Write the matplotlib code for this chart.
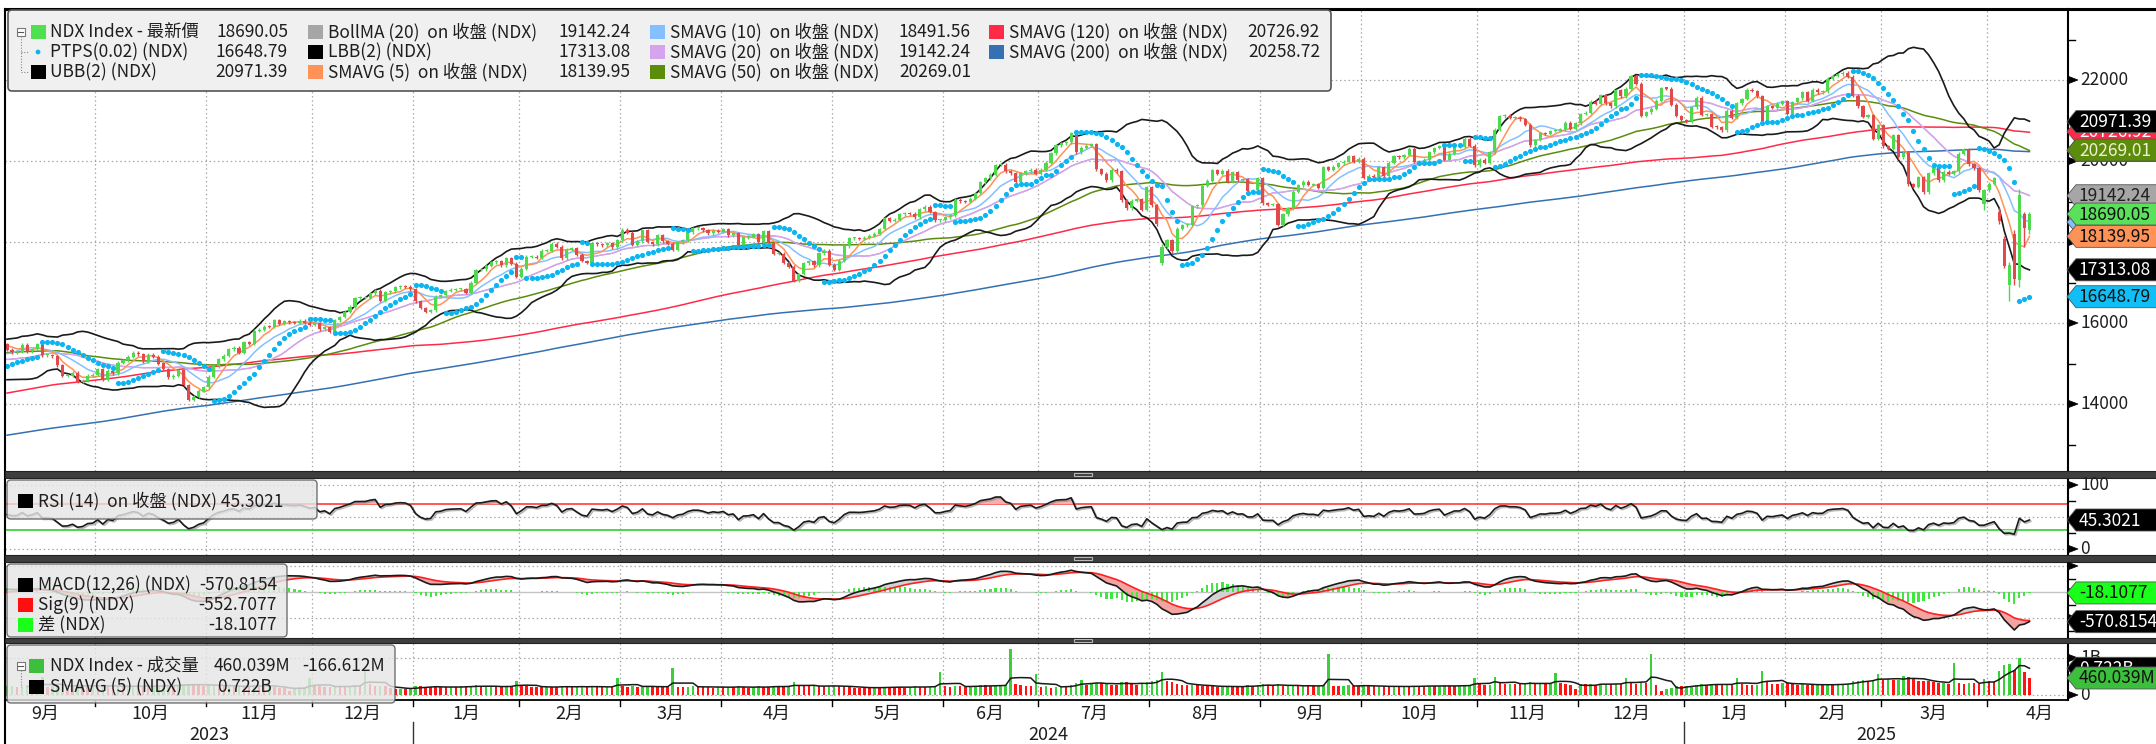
import numpy as np
import pandas as pd
import matplotlib
matplotlib.use('Agg')
import matplotlib.pyplot as plt
from matplotlib.patches import Polygon, Rectangle, FancyBboxPatch, Circle
from matplotlib.lines import Line2D
from matplotlib.transforms import IdentityTransform
import matplotlib.patheffects as pe

plt.rcParams['font.family'] = ['Noto Sans CJK TC', 'DejaVu Sans']
FS = 12.5

# ------------------------------------------------------------------ data
HOLIDAYS = ['2022-11-24', '2022-12-26', '2023-01-02', '2023-01-16', '2023-02-20', '2023-04-07',
            '2023-05-29', '2023-06-19', '2023-07-04', '2023-09-04', '2023-11-23', '2023-12-25',
            '2024-01-01', '2024-01-15', '2024-02-19', '2024-03-29', '2024-05-27', '2024-06-19',
            '2024-07-04', '2024-09-02', '2024-11-28', '2024-12-25', '2025-01-01', '2025-01-09',
            '2025-01-20', '2025-02-17', '2025-04-18']
HISTORY_START = '2022-11-14'
FIRST_VISIBLE = '2023-09-06'

# daily closes (history before the visible window feeds the long averages)
close_2022_11 = [11440, 11600, 11440, 11420, 11430, 11310, 11440, 11540, 11460, 11280, 11200, 11700]
close_2022_12 = [11720, 11680, 11480, 11260, 11200, 11340, 11280, 11410, 11530, 11440, 11080, 10980,
                 10840, 10840, 10990, 10740, 10760, 10620, 10480, 10780, 10940]
close_2023_01 = [10860, 10910, 10740, 11040, 11110, 11190, 11400, 11460, 11540, 11560, 11400, 11280,
                 11580, 11840, 11810, 11790, 12000, 12100, 11870, 12100]
close_2023_02 = [12360, 12800, 12570, 12440, 12680, 12460, 12320, 12300, 12460, 12570, 12650, 12420,
                 12340, 12060, 12060, 12150, 11950, 12020, 12040]
close_2023_03 = [11950, 12050, 12290, 12300, 12140, 12220, 12000, 11830, 11920, 12180, 12250, 12570,
                 12520, 12560, 12740, 12570, 12720, 12770, 12680, 12620, 12840, 12950, 13180]
close_2023_04 = [13180, 13130, 12990, 13090, 13080, 12990, 12880, 13120, 13080, 13080, 13080, 13070,
                 12970, 13000, 12930, 12680, 12770, 13150, 13250]
close_2023_05 = [13230, 13130, 13050, 12990, 13240, 13280, 13200, 13340, 13390, 13340, 13410, 13400,
                 13580, 13830, 13800, 13850, 13670, 13600, 13940, 14300, 14350, 14250]
close_2023_06 = [14460, 14550, 14540, 14560, 14310, 14490, 14540, 14750, 14870, 14980, 15170, 15080,
                 14990, 14780, 14970, 14890, 14680, 14930, 14950, 14910, 15180]
close_2023_07 = [15200, 15190, 15060, 14940, 14970, 15080, 15340, 15630, 15570, 15780, 15920, 15860,
                 15480, 15440, 15500, 15600, 15470, 15460, 15760, 15750]
close_2023_08 = [15730, 15390, 15350, 15270, 15400, 15260, 15090, 15120, 15020, 15200, 15030, 14870,
                 14690, 14690, 14950, 14900, 15140, 14780, 14940, 15040, 15360, 15430, 15500]
close_2023_09 = [15440, 15470, 15340, 15280, 15290, 15460, 15300, 15360, 15480, 15200, 15210, 15180,
                 14960, 14690, 14700, 14770, 14550, 14580, 14700, 14720]
close_2023_10 = [14860, 14600, 14820, 14760, 15020, 15080, 15170, 15270, 15230, 15050, 15220, 15170,
                 15000, 14860, 14660, 14700, 14840, 14470, 14110, 14180, 14330, 14410]
close_2023_11 = [14670, 14930, 15100, 15190, 15350, 15390, 15260, 15530, 15480, 15810, 15830, 15910,
                 15900, 16070, 15980, 16050, 16020, 16010, 16060, 16010, 15950]
close_2023_12 = [15990, 15840, 15890, 15780, 16070, 16150, 16280, 16400, 16610, 16620, 16620, 16730,
                 16800, 16550, 16760, 16780, 16880, 16910, 16900, 16830]
close_2024_01 = [16540, 16370, 16280, 16310, 16650, 16690, 16790, 16820, 16830, 16840, 16750, 17000,
                 17310, 17330, 17410, 17500, 17520, 17420, 17600, 17460, 17140]
close_2024_02 = [17340, 17640, 17640, 17610, 17780, 17790, 17960, 17880, 17600, 17810, 17850, 17690,
                 17530, 17480, 17970, 17940, 17920, 17970, 17870, 18040]
close_2024_03 = [18300, 18230, 17930, 18020, 18290, 18000, 17940, 18170, 18020, 17960, 17810, 17990,
                 18040, 18240, 18340, 18340, 18290, 18210, 18280, 18250]
close_2024_04 = [18310, 18170, 18210, 17930, 18120, 18130, 18190, 17990, 18270, 17970, 17710, 17710,
                 17490, 17390, 17040, 17210, 17470, 17530, 17430, 17720, 17780, 17440]
close_2024_05 = [17320, 17540, 17890, 18090, 18090, 18080, 18110, 18160, 18200, 18320, 18590, 18530,
                 18550, 18680, 18710, 18700, 18610, 18810, 18870, 18740, 18540, 18540]
close_2024_06 = [18610, 18660, 19040, 19010, 18990, 19070, 19210, 19470, 19570, 19660, 19900, 19910,
                 19750, 19700, 19470, 19700, 19750, 19790, 19680]
close_2024_07 = [19790, 19960, 20190, 20390, 20440, 20460, 20680, 20210, 20330, 20380, 20410, 19800,
                 19690, 19520, 19780, 19750, 19030, 18830, 19020, 19060, 18790, 19360]
close_2024_08 = [18910, 18440, 17870, 18050, 17770, 18330, 18410, 18430, 18880, 18910, 19390, 19510,
                 19770, 19690, 19760, 19480, 19720, 19520, 19550, 19270, 19280, 19570]
close_2024_09 = [18960, 18920, 18930, 18420, 18680, 18830, 19240, 19400, 19490, 19410, 19420, 19340,
                 19850, 19790, 19860, 19940, 19980, 20120, 19980, 20060]
close_2024_10 = [19590, 19640, 19600, 19840, 19630, 19960, 20120, 20090, 20150, 20300, 19980, 19990,
                 20030, 20220, 20320, 20360, 20030, 20180, 20350, 20350, 20550, 20380, 19890]
close_2024_11 = [20030, 19960, 20220, 20770, 21100, 21120, 21070, 21070, 21030, 20900, 20390, 20520,
                 20680, 20670, 20740, 20740, 20780, 20950, 20790, 20930]
close_2024_12 = [21160, 21190, 21460, 21410, 21620, 21430, 21350, 21750, 21600, 21780, 22100, 21910,
                 21110, 21200, 21290, 21490, 21800, 21790, 21390, 21110, 21010]
close_2025_01 = [20980, 21330, 21560, 21140, 21160, 20850, 20830, 20760, 21240, 21060, 21430, 21530,
                 21760, 21730, 21600, 21000, 21360, 21320, 21410, 21480]
close_2025_02 = [21170, 21450, 21550, 21700, 21490, 21760, 21700, 21720, 22030, 22110, 22140, 22180,
                 22080, 21610, 21350, 21090, 21130, 20550, 20880]
close_2025_03 = [20360, 20300, 20630, 20090, 20200, 19430, 19370, 19600, 19230, 19700, 19840, 19520,
                 19740, 19680, 19750, 20180, 20290, 19920, 19820, 19280, 19280]
close_2025_04 = [19440, 19580, 18520, 17400, 17430, 17090, 19150, 18340, 18690]

# days whose open / high / low are clearly visible as gaps or long wicks
ohlc_days = ['2024-08-05', '2025-03-31', '2025-04-03', '2025-04-04', '2025-04-07',
             '2025-04-08', '2025-04-09', '2025-04-10', '2025-04-11']
ohlc_open = [17470, 18950, 18750, 18080, 16950, 18200, 17050, 18700, 18300]
ohlc_high = [17950, 19300, 18850, 18140, 17500, 18300, 19300, 18750, 18740]
ohlc_low = [17430, 18800, 18450, 17360, 16542, 16950, 16900, 17880, 18200]

# daily volume, millions (visible window)
vol_2023_09 = [230, 240, 220, 230, 240, 230, 250, 480, 220, 230, 250, 270, 250, 230, 260, 250, 240, 260]
vol_2023_10 = [240, 250, 240, 230, 240, 230, 240, 250, 240, 240, 230, 240, 250, 260, 270, 250, 260, 290,
               310, 280, 260, 250]
vol_2023_11 = [270, 280, 260, 230, 240, 230, 240, 230, 220, 280, 250, 230, 260, 210, 200, 190, 100, 200,
               210, 220, 460]
vol_2023_12 = [230, 230, 220, 220, 240, 230, 220, 240, 270, 250, 680, 300, 230, 250, 230, 200, 160, 170,
               170, 180]
vol_2024_01 = [230, 230, 220, 220, 220, 210, 210, 220, 210, 230, 230, 240, 260, 220, 230, 240, 230, 220,
               230, 230, 380]
vol_2024_02 = [250, 240, 220, 210, 210, 220, 220, 220, 240, 220, 210, 220, 240, 220, 240, 210, 210, 220,
               220, 470]
vol_2024_03 = [240, 220, 250, 220, 230, 240, 220, 220, 220, 220, 730, 220, 210, 220, 230, 230, 210, 210,
               200, 220]
vol_2024_04 = [210, 220, 210, 230, 210, 200, 210, 230, 220, 220, 240, 230, 230, 240, 350, 240, 230, 230,
               260, 250, 230, 240]
vol_2024_05 = [250, 240, 230, 210, 200, 200, 200, 190, 200, 200, 220, 220, 210, 210, 200, 220, 240, 210,
               210, 220, 240, 620]
vol_2024_06 = [230, 220, 250, 230, 220, 230, 240, 270, 260, 240, 250, 260, 280, 1240, 300, 270, 250, 240,
               570]
vol_2024_07 = [220, 230, 200, 210, 240, 240, 260, 320, 400, 280, 290, 330, 320, 330, 280, 260, 360, 340,
               300, 280, 300, 340]
vol_2024_08 = [380, 410, 620, 380, 340, 310, 280, 270, 280, 260, 250, 240, 230, 220, 230, 240, 230, 220,
               210, 280, 250, 260]
vol_2024_09 = [290, 260, 250, 300, 240, 250, 260, 240, 250, 250, 240, 250, 270, 1100, 240, 230, 240, 260,
               250, 250]
vol_2024_10 = [260, 240, 230, 240, 230, 230, 240, 220, 230, 230, 250, 240, 240, 250, 230, 240, 260, 250,
               240, 250, 260, 270, 460]
vol_2024_11 = [300, 270, 280, 490, 330, 300, 310, 300, 300, 310, 360, 290, 300, 300, 310, 600, 330, 300,
               260, 150]
vol_2024_12 = [300, 290, 300, 280, 290, 300, 300, 310, 300, 460, 320, 300, 360, 330, 1100, 280, 100, 170,
               200, 240, 230]
vol_2025_01 = [240, 250, 270, 300, 270, 300, 280, 270, 300, 280, 470, 290, 280, 260, 270, 650, 390, 310,
               300, 320]
vol_2025_02 = [320, 300, 280, 290, 280, 270, 280, 270, 290, 280, 290, 300, 310, 380, 390, 400, 370, 400,
               570]
vol_2025_03 = [400, 420, 400, 410, 520, 480, 430, 380, 380, 380, 340, 320, 330, 310, 860, 320, 300, 330,
               320, 310, 420]
vol_2025_04 = [370, 340, 650, 800, 830, 680, 1013, 626.651, 460.039]

# legend / tag texts (as printed on the chart)
main_legend = [
    [('NDX Index - 最新價', '18690.05'), ('BollMA (20)  on 收盤 (NDX)', '19142.24'),
     ('SMAVG (10)  on 收盤 (NDX)', '18491.56'), ('SMAVG (120)  on 收盤 (NDX)', '20726.92')],
    [('PTPS(0.02) (NDX)', '16648.79'), ('LBB(2) (NDX)', '17313.08'),
     ('SMAVG (20)  on 收盤 (NDX)', '19142.24'), ('SMAVG (200)  on 收盤 (NDX)', '20258.72')],
    [('UBB(2) (NDX)', '20971.39'), ('SMAVG (5)  on 收盤 (NDX)', '18139.95'),
     ('SMAVG (50)  on 收盤 (NDX)', '20269.01'), None],
]
main_tag_values = [20258.72, 20726.92, 20971.39, 20269.01, 19142.24, 18491.56, 18690.05, 18139.95,
                   17313.08, 16648.79]
main_axis_ticks = [14000, 16000, 18000, 20000, 22000]
main_minor_ticks = [13000, 15000, 17000, 19000, 21000, 23000]

# ------------------------------------------------------------------ assemble
close_lists = [close_2022_11, close_2022_12, close_2023_01, close_2023_02, close_2023_03, close_2023_04,
               close_2023_05, close_2023_06, close_2023_07, close_2023_08, close_2023_09, close_2023_10,
               close_2023_11, close_2023_12, close_2024_01, close_2024_02, close_2024_03, close_2024_04,
               close_2024_05, close_2024_06, close_2024_07, close_2024_08, close_2024_09, close_2024_10,
               close_2024_11, close_2024_12, close_2025_01, close_2025_02, close_2025_03, close_2025_04]
vol_lists = [vol_2023_09, vol_2023_10, vol_2023_11, vol_2023_12, vol_2024_01, vol_2024_02, vol_2024_03,
             vol_2024_04, vol_2024_05, vol_2024_06, vol_2024_07, vol_2024_08, vol_2024_09, vol_2024_10,
             vol_2024_11, vol_2024_12, vol_2025_01, vol_2025_02, vol_2025_03, vol_2025_04]

close = np.array(sum(close_lists, []), dtype=float)
cal = pd.bdate_range(HISTORY_START, '2025-04-30')
cal = cal[~cal.isin(pd.to_datetime(HOLIDAYS))]
dates = cal[:len(close)]
N = len(close)
F = int(np.searchsorted(dates, pd.Timestamp(FIRST_VISIBLE)))

open_ = np.r_[close[0], close[:-1]].copy()
WICK = 35.0
high = np.maximum(open_, close) + WICK
low = np.minimum(open_, close) - WICK
for d, o, h, l in zip(ohlc_days, ohlc_open, ohlc_high, ohlc_low):
    k = int(np.searchsorted(dates, pd.Timestamp(d)))
    if k < N:
        open_[k], high[k], low[k] = o, h, l

s = pd.Series(close)
sma = {n: s.rolling(n).mean().values for n in (5, 10, 20, 50, 120, 200)}
sd20 = s.rolling(20).std(ddof=0).values
ubb = sma[20] + 2 * sd20
lbb = sma[20] - 2 * sd20

dlt = s.diff()
ag = dlt.clip(lower=0).ewm(alpha=1 / 14, adjust=False).mean()
al = (-dlt.clip(upper=0)).ewm(alpha=1 / 14, adjust=False).mean()
rsi = (100 - 100 / (1 + ag / al)).values

ema12 = s.ewm(span=12, adjust=False).mean()
ema26 = s.ewm(span=26, adjust=False).mean()
macd_s = ema12 - ema26
sig_s = macd_s.ewm(span=9, adjust=False).mean()
macd = macd_s.values
sig = sig_s.values
hist = macd - sig


def psar(hi, lo, step=0.02, amax=0.2):
    n = len(hi)
    out = np.zeros(n)
    bull = True
    af = step
    ep = hi[0]
    out[0] = lo[0]
    for i in range(1, n):
        p = out[i - 1] + af * (ep - out[i - 1])
        if bull:
            p = min(p, lo[i - 1], lo[max(i - 2, 0)])
            if lo[i] < p:
                bull, p, ep, af = False, ep, lo[i], step
            elif hi[i] > ep:
                ep, af = hi[i], min(af + step, amax)
        else:
            p = max(p, hi[i - 1], hi[max(i - 2, 0)])
            if hi[i] > p:
                bull, p, ep, af = True, ep, hi[i], step
            elif lo[i] < ep:
                ep, af = lo[i], min(af + step, amax)
        out[i] = p
    return out


sar = psar(high, low)

vol = np.array(sum(vol_lists, []), dtype=float) / 1000.0
nv = min(len(vol), N - F)
vol = vol[:nv]
vol_up = np.r_[True, vol[1:] > vol[:-1]]
vol_sma = pd.Series(vol).rolling(5).mean().values

vis = slice(F, N)
xv = np.arange(N - F, dtype=float)
xvol = np.arange(nv, dtype=float)
dv = dates[F:]

# ------------------------------------------------------------------ layout
W, H = 2156, 744
T = IdentityTransform()
fig = plt.figure(figsize=(W / 100, H / 100), dpi=100)
fig.patch.set_facecolor('white')

PPD = 5.0435
X_FIRST = 7.0
AX_L, AX_R = 5, 2068
XL = ((AX_L - X_FIRST) / PPD, (AX_R - X_FIRST) / PPD)


def add_ax(y0, y1, ylim):
    a = fig.add_axes([AX_L / W, 1 - y1 / H, (AX_R - AX_L) / W, (y1 - y0) / H])
    a.set_xlim(*XL)
    a.set_ylim(*ylim)
    a.axis('off')
    return a


ax_m = add_ax(10, 471, (22000 - (471 - 80) / 0.0405, 22000 + 70 / 0.0405))
ax_r = add_ax(478, 555, (-6 / 0.64, 100 + 7 / 0.64))
ax_c = add_ax(562, 638, (-46 / 0.052, 30 / 0.052))
ax_v = add_ax(643, 700, (-5 / 37.0, 52 / 37.0))


def ypx(ax, v):
    return H - ax.transData.transform((0, v))[1]


def ftext(x, y, t, size=FS, color='#1e1e1e', ha='left', va='center', **kw):
    return fig.text(x, H - y, t, transform=T, fontsize=size, color=color, ha=ha, va=va, **kw)


def frect(x0, y0, x1, y1, **kw):
    r = Rectangle((x0, H - y1), x1 - x0, y1 - y0, transform=T, **kw)
    fig.add_artist(r)
    return r


def fline(x0, y0, x1, y1, **kw):
    fig.add_artist(Line2D([x0, x1], [H - y0, H - y1], transform=T, **kw))


def fpoly(pts, **kw):
    fig.add_artist(Polygon([(x, H - y) for x, y in pts], closed=True, transform=T, **kw))


def fbox(x0, y0, x1, y1, **kw):
    fig.add_artist(FancyBboxPatch((x0, H - y1), x1 - x0, y1 - y0, transform=T,
                                  boxstyle='round,pad=0,rounding_size=4', **kw))


GRID = dict(color='#a8a8a8', lw=0.9, ls=(0, (1.2, 2.2)), zorder=0.5)

# month boundaries
mstart = [i for i in range(1, len(dv)) if dv[i].month != dv[i - 1].month]
mb = [i - 0.5 for i in mstart]
for a in (ax_m, ax_r, ax_c, ax_v):
    for b in mb:
        a.axvline(b, **GRID)

# ------------------------------------------------------------------ main panel
for v in main_axis_ticks:
    ax_m.axhline(v, **GRID)

LW = 1.1
ax_m.plot(xv, sma[200][vis], color='#3570b2', lw=LW, zorder=2)
ax_m.plot(xv, sma[120][vis], color='#ff2a48', lw=LW, zorder=2)
ax_m.plot(xv, sma[50][vis], color='#5c8c0c', lw=LW, zorder=2)
ax_m.plot(xv, ubb[vis], color='#1a1a1a', lw=1.2, zorder=2.2)
ax_m.plot(xv, lbb[vis], color='#1a1a1a', lw=1.2, zorder=2.2)
ax_m.plot(xv, sma[20][vis], color='#a6a6a6', lw=0.8, zorder=2.3)
ax_m.plot(xv, sma[20][vis], color='#d6a3ee', lw=LW, zorder=2.4)
ax_m.plot(xv, sma[10][vis], color='#84c0ff', lw=LW, zorder=2.5)
ax_m.plot(xv, sma[5][vis], color='#ff9256', lw=LW, zorder=2.6)

o_v, c_v, h_v, l_v = open_[vis], close[vis], high[vis], low[vis]
up = c_v >= o_v
ccol = np.where(up, '#4fd94f', '#e04a4a')
ax_m.vlines(xv, l_v, h_v, colors=ccol, lw=1.0, zorder=3)
bh = np.maximum(np.abs(c_v - o_v), 25)
ax_m.bar(xv, bh, bottom=np.minimum(o_v, c_v), width=0.62, color=ccol, lw=0, zorder=3.1)
ax_m.scatter(xv, sar[vis], s=14, color='#0db5f0', lw=0, zorder=4)

# ------------------------------------------------------------------ RSI
for v in (0, 50, 100):
    ax_r.axhline(v, **GRID)
ax_r.axhline(70, color='#ff3b3b', lw=1.2, zorder=1)
ax_r.axhline(30, color='#2ed12e', lw=1.2, zorder=1)
rv = rsi[vis]
ax_r.fill_between(xv, rv, 70, where=rv > 70, color='#f6b0b0', interpolate=True, lw=0, zorder=1.5)
ax_r.fill_between(xv, rv, 30, where=rv < 30, color='#b8f0b8', interpolate=True, lw=0, zorder=1.5)
ax_r.plot(xv, rv, color='#1a1a1a', lw=1.2, zorder=3,
          path_effects=[pe.SimpleLineShadow(offset=(1, -1), shadow_color='#888888', alpha=0.6), pe.Normal()])

# ------------------------------------------------------------------ MACD
for v in (500, -500):
    ax_c.axhline(v, **GRID)
ax_c.axhline(0, color='#c4c4c4', lw=1.0, zorder=0.8)
mv, sv, hv = macd[vis], sig[vis], hist[vis]
ax_c.fill_between(xv, mv, sv, where=mv < sv, color='#f4a3a3', interpolate=True, lw=0, zorder=1)
ax_c.fill_between(xv, mv, sv, where=mv >= sv, color='#d2d2d2', interpolate=True, lw=0, zorder=1)
ax_c.bar(xv, hv, width=0.42, color='#3fe83f', lw=0, zorder=2)
ax_c.plot(xv, sv, color='#ff2020', lw=1.2, zorder=3)
ax_c.plot(xv, mv, color='#1a1a1a', lw=1.2, zorder=4)

# ------------------------------------------------------------------ volume
for v in (0, 1.0):
    ax_v.axhline(v, **GRID)
ax_v.bar(xvol, vol, width=0.5, color=np.where(vol_up, '#3ccf3c', '#ff1414'), lw=0, zorder=2)
ax_v.plot(xvol, vol_sma, color='#1a1a1a', lw=1.1, zorder=3)

# ------------------------------------------------------------------ frame & separators
fline(AX_L, 9, W, 9, color='black', lw=2.2, zorder=6)
fline(AX_L, 9, AX_L, H, color='black', lw=1.5, zorder=6)
fline(AX_R, 9, AX_R, 700, color='black', lw=1.5, zorder=6)
fline(AX_L, 700, AX_R, 700, color='black', lw=1.3, zorder=6)
for y0, y1 in ((471, 478), (555, 562), (638, 643)):
    frect(AX_L, y0, W, y1, fc='#3e3e3e', ec='#222222', lw=0.8, zorder=6)
    frect(1074, (y0 + y1) / 2 - 1.6, 1092, (y0 + y1) / 2 + 1.6, fc='none', ec='#b8b8b8', lw=0.8, zorder=6.1)

# x axis
for b in mb:
    xp = AX_L + (b - XL[0]) * PPD
    fline(xp, 700, xp, 706, color='black', lw=1.0, zorder=6)

# month labels centred on full month spans (calendar, incl. days outside the window)
mon_keys = sorted(set((d.year, d.month) for d in dv))
for (yy, mm) in mon_keys:
    idx_all = [i for i, d in enumerate(cal) if d.year == yy and d.month == mm]
    c_mid = (idx_all[0] + idx_all[-1]) / 2.0 - F
    xp = AX_L + (c_mid - XL[0]) * PPD
    ftext(xp, 714, f'{mm}月', size=13, ha='center')

ybounds = [i for i in mstart if dv[i].month == 1]
edges = [XL[0]] + [i - 0.5 for i in ybounds] + [XL[1]]
years = [dv[0].year] + [dv[i].year for i in ybounds]
for k, yy in enumerate(years):
    xp = AX_L + ((edges[k] + edges[k + 1]) / 2 - XL[0]) * PPD
    ftext(xp, 735, str(yy), size=13, ha='center')
for i in ybounds:
    xp = AX_L + (i - 0.5 - XL[0]) * PPD
    fline(xp, 722, xp, H, color='#333333', lw=1.0, zorder=6)


# ------------------------------------------------------------------ right axis
def arrow(y):
    fpoly([(AX_R, y - 3.8), (AX_R + 10, y), (AX_R, y + 3.8)], fc='black', ec='black', lw=0.5, zorder=6)


def minor(y):
    fline(AX_R, y, AX_R + 7, y, color='black', lw=1.0, zorder=6)


for v in main_axis_ticks:
    y = ypx(ax_m, v)
    arrow(y)
    ftext(2080, y, str(v), zorder=6)
for v in main_minor_ticks:
    minor(ypx(ax_m, v))
for v in (100, 0):
    y = ypx(ax_r, v)
    arrow(y)
    ftext(2080, y, str(v), zorder=6)
for v in (25, 50, 75):
    minor(ypx(ax_r, v))
for v in (500, 0, -500):
    arrow(ypx(ax_c, v))
for v in (250, -250, -750):
    minor(ypx(ax_c, v))
for v, t in ((1.0, '1B'), (0, '0')):
    y = ypx(ax_v, v)
    arrow(y)
    ftext(2080, y, t, zorder=6)


def tag(y, t, bg, fg, z):
    fpoly([(AX_R - 1, y), (AX_R + 8, y - 11), (W + 5, y - 11), (W + 5, y + 11), (AX_R + 8, y + 11)],
          fc=bg, ec='#555555', lw=0.6, zorder=z)
    ftext(2079, y + 0.5, t, color=fg, zorder=z + 0.01)


tag_style = [('#3570b2', 'white'), ('#ff2a48', 'white'), ('#000000', 'white'), ('#5c8c0c', '#f0f0d0'),
             ('#a6a6a6', '#202020'), ('#84c0ff', '#101010'), ('#5ae05a', '#101010'), ('#ff9256', '#101010'),
             ('#000000', 'white'), ('#10bff5', '#101010')]
for k, (v, (bg, fg)) in enumerate(zip(main_tag_values, tag_style)):
    tag(ypx(ax_m, v), f'{v:.2f}', bg, fg, 7 + k * 0.1)

tag(ypx(ax_r, 45.3021), '45.3021', '#000000', 'white', 7)
tag(ypx(ax_c, -18.1077), '-18.1077', '#19ff19', '#101010', 7)
tag(ypx(ax_c, -570.8154), '-570.8154', '#000000', 'white', 7.1)
tag(ypx(ax_v, 0.722), '0.722B', '#000000', 'white', 7)
tag(ypx(ax_v, 0.460039), '460.039M', '#3cbf3c', '#101010', 7.1)

# ------------------------------------------------------------------ legends
fbox(8, 10, 1331, 91, fc='#f0f0f0', ec='#555555', lw=1.2, zorder=8)
rows_y = [32, 52, 72]
col_sw = [31, 308, 650, 989]
col_tx = [50, 328, 670, 1009]
col_val = [288, 631, 971, 1320]
sw_colors = [['#4fe04f', '#a6a6a6', '#84c0ff', '#ff2a48'],
             [None, '#000000', '#d6a3ee', '#3570b2'],
             ['#000000', '#ff9256', '#5c8c0c', None]]
for r, row in enumerate(main_legend):
    y = rows_y[r]
    for c, item in enumerate(row):
        if item is None:
            continue
        col = sw_colors[r][c]
        if col is not None:
            frect(col_sw[c], y - 7, col_sw[c] + 15, y + 7, fc=col, ec='none', zorder=8.1)
        ftext(col_tx[c], y, item[0], zorder=8.2)
        ftext(col_val[c], y, item[1], ha='right', zorder=8.2)
fig.add_artist(Circle((38, H - 52), 2.4, transform=T, fc='#0db5f0', ec='none', zorder=8.1))
# tree glyph
frect(16.5, 28, 24.5, 36, fc='white', ec='#777777', lw=0.8, zorder=8.1)
fline(18, 32, 23, 32, color='#555555', lw=0.8, zorder=8.2)
fline(20.5, 36, 20.5, 72, color='#888888', lw=0.8, ls=(0, (1, 1.5)), zorder=8.1)
for y in (52, 72):
    fline(20.5, y, 28, y, color='#888888', lw=0.8, ls=(0, (1, 1.5)), zorder=8.1)

# RSI legend
fbox(7, 480, 317, 519, fc='#e6e6e6', ec='#555555', lw=1.0, alpha=0.82, zorder=8)
frect(18, 494, 33, 508, fc='black', ec='none', zorder=8.1)
ftext(38, 501, 'RSI (14)  on 收盤 (NDX) 45.3021', zorder=8.2)

# MACD legend
fbox(7, 564, 287, 637, fc='#e6e6e6', ec='#555555', lw=1.0, alpha=0.82, zorder=8)
for y, col, lab, val in ((585, '#000000', 'MACD(12,26) (NDX)', '-570.8154'),
                         (605, '#ff1010', 'Sig(9) (NDX)', '-552.7077'),
                         (625, '#19ff19', '差 (NDX)', '-18.1077')):
    frect(18, y - 7, 33, y + 7, fc=col, ec='none', zorder=8.1)
    ftext(38, y, lab, zorder=8.2)
    ftext(277, y, val, ha='right', zorder=8.2)

# volume legend
fbox(7, 645, 395, 703, fc='#e6e6e6', ec='#555555', lw=1.0, alpha=0.82, zorder=8)
frect(16.5, 662, 24.5, 670, fc='white', ec='#777777', lw=0.8, zorder=8.1)
fline(18, 666, 23, 666, color='#555555', lw=0.8, zorder=8.2)
fline(20.5, 670, 20.5, 687, color='#888888', lw=0.8, ls=(0, (1, 1.5)), zorder=8.1)
frect(29, 659, 44, 673, fc='#3cbf3c', ec='none', zorder=8.1)
frect(29, 680, 44, 694, fc='#000000', ec='none', zorder=8.1)
ftext(50, 666, 'NDX Index - 成交量', zorder=8.2)
ftext(290, 666, '460.039M', ha='right', zorder=8.2)
ftext(385, 666, '-166.612M', ha='right', zorder=8.2)
ftext(50, 687, 'SMAVG (5) (NDX)', zorder=8.2)
ftext(272, 687, '0.722B', ha='right', zorder=8.2)

fig.savefig('out.png', dpi=100, facecolor='white')
